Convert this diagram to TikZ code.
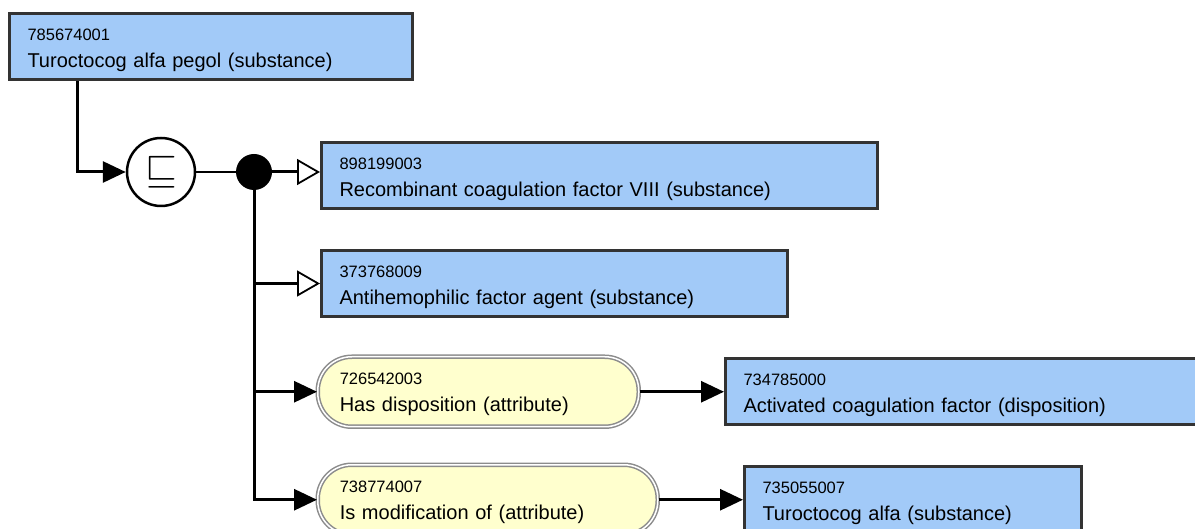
\documentclass[tikz,border=0pt]{standalone}
\usepackage{fontspec}
\usepackage{graphicx}
\setmainfont{Liberation Sans}
\usetikzlibrary{arrows.meta}
\definecolor{conceptblue}{RGB}{162,202,248}
\definecolor{attryellow}{RGB}{255,255,206}
\definecolor{edgegray}{RGB}{51,51,51}
\newcommand{\idtext}[1]{{\fontsize{16.5}{18}\selectfont #1}}
\tikzset{
  concept/.style={draw=edgegray, line width=3pt, fill=conceptblue, anchor=north west,
    minimum height=66pt, inner xsep=18pt, inner ysep=0pt, align=left,
    font=\fontsize{20}{27}\selectfont, text height=20pt, text depth=32pt},
  attr/.style={draw=black!45, double=white, double distance=1.5pt, line width=1.5pt,
    fill=attryellow, rounded corners=34pt, anchor=north west,
    minimum height=70pt, inner xsep=22pt, inner ysep=0pt, align=left,
    font=\fontsize{20}{27}\selectfont, text height=19pt, text depth=33pt},
  conn/.style={line width=3pt, black},
  filledtip/.style={-{Triangle[length=23pt,width=21pt]}},
  opentip/.style={-{Triangle[open,length=23pt,width=26pt,line width=1.8pt]}},
}
\begin{document}
\begin{tikzpicture}[x=1pt,y=-1pt]
\useasboundingbox (0,0) rectangle (1195,529);
\clip (0,0) rectangle (1195,529);

\node[concept, text width=367pt] (b1) at (8,12) {\idtext{785674001}\\Turoctocog alfa pegol (substance)};
\node[circle, draw, line width=2.5pt, fill=white, minimum size=68pt, inner sep=0pt] (c) at (161,172)
  {\fontsize{24}{24}\selectfont\scalebox{1.65}{$\sqsubseteq$}};
\node[circle, fill=black, minimum size=36pt, inner sep=0pt] (d) at (254,172) {};
\node[concept, text width=520pt] (b2) at (320,141) {\idtext{898199003}\\Recombinant coagulation factor VIII (substance)};
\node[concept, text width=430pt] (b3) at (320,249) {\idtext{373768009}\\Antihemophilic factor agent (substance)};
\node[attr, text width=277pt] (a1) at (317,356) {\idtext{726542003}\\Has disposition (attribute)};
\node[concept, text width=484pt] (b4) at (724,357) {\idtext{734785000}\\Activated coagulation factor (disposition)};
\node[attr, text width=296pt] (a2) at (317,464) {\idtext{738774007}\\Is modification of (attribute)};
\node[concept, text width=301pt] (b5) at (743,465) {\idtext{735055007}\\Turoctocog alfa (substance)};

\draw[conn, filledtip] ([xshift=69pt]b1.south west) |- (c.west);
\draw[conn, line width=2.5pt] (c.east) -- (d.west);
\draw[conn, opentip] (d.east) -- (d.east -| b2.west);
\draw[conn, opentip] (d.south) |- (b3.west);
\draw[conn, filledtip] (d.south) |- (a1.west);
\draw[conn, filledtip] (d.south) |- (a2.west);
\draw[conn, filledtip] (a1.east) -- (a1.east -| b4.west);
\draw[conn, filledtip] (a2.east) -- (a2.east -| b5.west);
\end{tikzpicture}
\end{document}
